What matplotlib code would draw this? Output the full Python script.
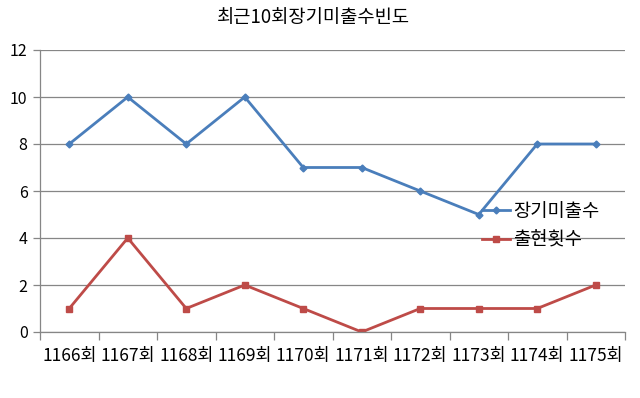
import matplotlib
matplotlib.use("Agg")
import matplotlib.pyplot as plt
from matplotlib.lines import Line2D

plt.rcParams['font.family'] = ['Noto Sans CJK KR', 'DejaVu Sans']

categories = ['1166회', '1167회', '1168회', '1169회', '1170회', '1171회', '1172회', '1173회', '1174회', '1175회']
long_missing = [8, 10, 8, 10, 7, 7, 6, 5, 8, 8]
appearances = [1, 4, 1, 2, 1, 0, 1, 1, 1, 2]
series_names = ['장기미출수', '출현횟수']
title = '최근10회장기미출수빈도'

fig = plt.figure(figsize=(6.4, 3.98), dpi=100)
ax = fig.add_axes([40/640, 1-332/398, 585/640, 282/398])

x = list(range(len(categories)))
blue = '#4A7EBB'
red = '#BE4B48'
ax.plot(x, long_missing, color=blue, lw=2, marker='D', ms=3.5, label=series_names[0])
ax.plot(x, appearances, color=red, lw=2, marker='s', ms=5, label=series_names[1])

ax.set_xlim(-0.5, len(categories) - 0.5)
ax.set_ylim(0, 12)
ax.set_yticks(range(0, 13, 2))
ax.yaxis.grid(True, color='#868686', lw=0.9)
ax.set_axisbelow(True)
ax.set_xticks([i - 0.5 for i in range(len(categories) + 1)])
ax.set_xticklabels([])
ax.set_xticks(x, minor=True)
ax.set_xticklabels(categories, minor=True, fontsize=12.5)
ax.tick_params(axis='x', which='major', length=6, color='#868686', width=0.9)
ax.tick_params(axis='x', which='minor', length=0, pad=11)
ax.tick_params(axis='y', length=5, color='#868686', width=0.9, labelsize=11.5, pad=4)
for s in ['top', 'right']:
    ax.spines[s].set_visible(False)
for s in ['left', 'bottom']:
    ax.spines[s].set_color('#868686')
    ax.spines[s].set_linewidth(0.9)

fig.text(314/640, 1-18/398, title, ha='center', va='center', fontsize=13.5)

handles = [Line2D([], [], color=blue, lw=2, marker='D', ms=3.5),
           Line2D([], [], color=red, lw=2, marker='s', ms=5)]
leg = fig.legend(handles, series_names, loc='upper left', bbox_to_anchor=(474/640, 1-193/398),
                 frameon=False, fontsize=13.5, handlelength=1.5, handletextpad=0.2, labelspacing=0.45,
                 borderaxespad=0)

fig.savefig('out.png', dpi=100)
